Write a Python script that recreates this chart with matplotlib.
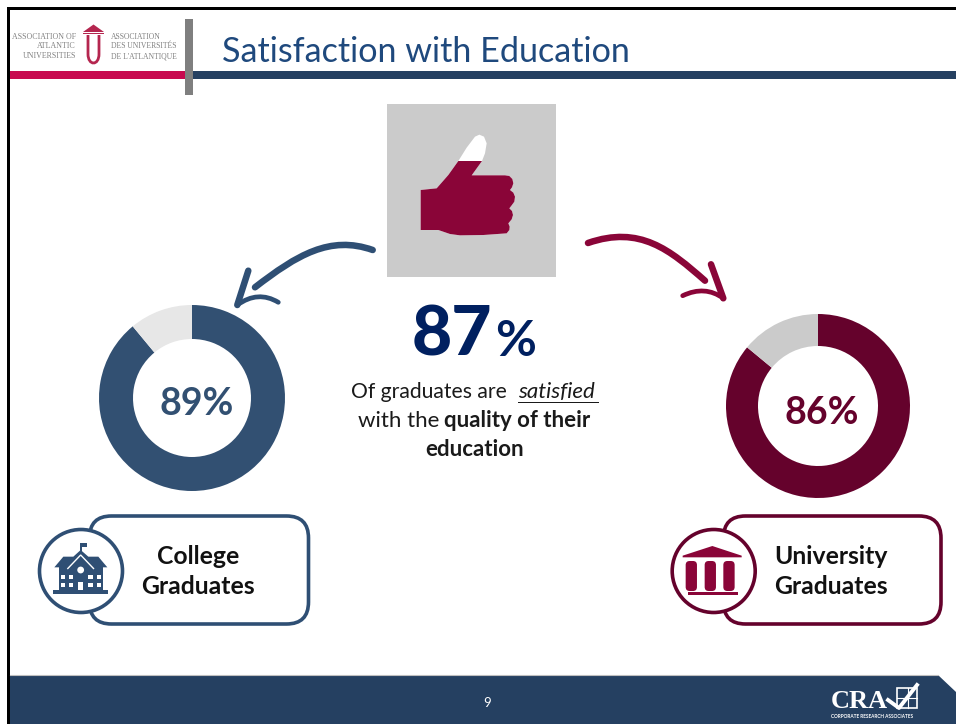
import matplotlib
matplotlib.use('Agg')
import matplotlib.pyplot as plt
from matplotlib.patches import Rectangle, Circle, FancyBboxPatch, PathPatch, Polygon
from matplotlib.path import Path

plt.rcParams['font.family'] = ['Lato', 'DejaVu Sans']

# ========== DATA ==========

W, H = 956, 724

title = "Satisfaction with Education"
overall_pct = 87
college_pct = 89
university_pct = 86
college_label = ["College", "Graduates"]
university_label = ["University", "Graduates"]
logo_left = ["ASSOCIATION OF", "ATLANTIC", "UNIVERSITIES"]
logo_right = ["ASSOCIATION", "DES UNIVERSITÉS", "DE L'ATLANTIQUE"]
page_number = "9"

NAVY = '#325072'
BAR_NAVY = '#254061'
MAROON = '#65022c'
CRIMSON = '#8a0538'
LOGO_RED = '#b5264f'

# ========== HELPERS ==========

def donut(cx, cy, r_out, r_in, pct, color, rest_color):
    # axes placed in pixel units, pie scales come from the values
    d = fig.add_axes([(cx - r_out) / W, 1 - (cy + r_out) / H, 2 * r_out / W, 2 * r_out / H], zorder=1)
    d.pie([pct, 100 - pct], colors=[color, rest_color], startangle=90, counterclock=False,
          radius=1, wedgeprops=dict(width=1 - r_in / r_out, linewidth=0))
    d.set_xlim(-1, 1)
    d.set_ylim(-1, 1)


def curve(verts, codes, color, lw):
    path = Path(verts, codes)
    ax.add_patch(PathPatch(path, fc='none', ec=color, lw=lw, capstyle='round', joinstyle='round'))


def arrow(shaft, head_a, tip, head_ctrl, head_b, color):
    c4 = [Path.MOVETO, Path.CURVE4, Path.CURVE4, Path.CURVE4]
    curve(shaft, c4, color, 4.7)
    curve([head_a, tip], [Path.MOVETO, Path.LINETO], color, 4.7)
    curve([tip, head_ctrl, head_b], [Path.MOVETO, Path.CURVE3, Path.CURVE3], color, 3.4)


def label_box(x0, x1, cx, color, lines, text_x):
    box = FancyBboxPatch((x0 + 22, 538), x1 - x0 - 44, 64, boxstyle="round,pad=22,rounding_size=22",
                         fc='white', ec=color, lw=2.6)
    ax.add_patch(box)
    ax.add_patch(Circle((cx, 571), 41.5, fc='white', ec=color, lw=2.6, zorder=3))
    ax.text(text_x, 556, lines[0], ha='center', va='center', fontsize=17.8, fontweight='bold', color='#111111')
    ax.text(text_x, 587, lines[1], ha='center', va='center', fontsize=17.8, fontweight='bold', color='#111111')


def school_icon(color):
    z = lambda x, y: (20 + x / 3, 505 + y / 3)
    def rect(x0, y0, x1, y1, c):
        ax.add_patch(Polygon([z(x0, y0), z(x1, y0), z(x1, y1), z(x0, y1)], fc=c, ec='none', zorder=4))
    ax.add_patch(Polygon([z(103, 187), z(130, 155), z(160, 155), z(182, 135), z(205, 155),
                          z(235, 155), z(262, 187)], fc=color, ec='none', zorder=4))
    rect(118, 187, 248, 255, color)
    rect(100, 255, 265, 266, color)
    rect(181, 113, 185, 137, color)
    rect(185, 113, 202, 125, color)
    ax.add_patch(Polygon([z(142, 192), z(182, 150), z(222, 192)], fc='none', ec='white', lw=1, zorder=5, closed=False))
    ax.add_patch(Circle(z(182, 195), 3.4, fc='white', ec='none', zorder=5))
    for wx in [122, 147, 205, 230]:
        for wy in [211, 233]:
            rect(wx, wy, wx + 13, wy + 12, 'white')
    rect(175, 230, 190, 255, 'white')


def temple_icon(color):
    z = lambda x, y: (660 + x / 3, 505 + y / 3)
    ax.add_patch(Polygon([z(68, 152), z(157, 123), z(245, 152), z(245, 157), z(68, 157)],
                         fc=color, ec='none', zorder=4))
    for cx in [94, 151, 207]:
        ax.add_patch(FancyBboxPatch(z(cx - 5, 180), 3.3, 22, boxstyle="round,pad=4,rounding_size=4",
                                    fc=color, ec='none', zorder=4))
    ax.add_patch(Polygon([z(84, 262), z(233, 262), z(233, 270), z(84, 270)], fc=color, ec='none', zorder=4))

# ========== FIGURE ==========

fig = plt.figure(figsize=(W / 100, H / 100), dpi=100, facecolor='white')
ax = fig.add_axes([0, 0, 1, 1], zorder=2)
ax.set_xlim(0, W)
ax.set_ylim(H, 0)
ax.axis('off')
ax.patch.set_visible(False)

# frame, header
ax.add_patch(Rectangle((7, 7), W, 2.5, fc='black', ec='none'))
ax.add_patch(Rectangle((7, 7), 3, H, fc='black', ec='none'))
ax.add_patch(Rectangle((10, 71), 175, 8, fc='#c8094f', ec='none'))
ax.add_patch(Rectangle((193, 71), W - 193, 8, fc=BAR_NAVY, ec='none'))
ax.add_patch(Rectangle((185, 19), 8, 76, fc='#7f7f7f', ec='none'))
ax.text(222, 62, title, fontsize=24.6, color='#1f497d', ha='left', va='baseline')

# logo
for i, s in enumerate(logo_left):
    ax.text(76, 37 + 9.5 * i, s, ha='right', va='center', fontsize=5.7, color='#808080', family='Liberation Serif')
for i, s in enumerate(logo_right):
    ax.text(111, 37 + 9.5 * i, s, ha='left', va='center', fontsize=5.5, color='#808080', family='Liberation Serif')
ax.add_patch(Polygon([(83, 32), (93.5, 24.5), (104, 32)], fc=LOGO_RED, ec='none'))
ax.add_patch(Rectangle((83, 32.5), 21, 1.5, fc=LOGO_RED, ec='none'))
ax.add_patch(PathPatch(Path([(88, 35), (88, 54), (88, 66), (99, 66), (99, 54), (99, 35)],
                            [Path.MOVETO, Path.LINETO, Path.CURVE4, Path.CURVE4, Path.CURVE4, Path.LINETO]),
                       fc='none', ec=LOGO_RED, lw=2))

# thumb
ax.add_patch(Rectangle((387, 104), 169, 173, fc='#cbcbcb', ec='none'))
thumb = [(152, 285), (200, 280), (235, 240), (265, 198), (290, 158), (315, 125), (328, 119), (342, 125),
         (350, 145), (345, 175), (336, 198), (305, 241), (405, 241), (418, 243), (427, 252), (430, 265),
         (426, 277), (420, 285), (430, 293), (435, 305), (433, 320), (425, 331), (418, 340), (426, 348),
         (429, 360), (425, 373), (415, 385), (419, 395), (418, 405), (410, 415),
         (340, 420), (270, 421), (240, 417), (205, 405), (152, 405)]
thumb = [(370 + x / 3, 95 + y / 3) for x, y in thumb]
ax.add_patch(Polygon(thumb, fc='white', ec='none'))
thumb_fill = Polygon(thumb, fc=CRIMSON, ec='none')
ax.add_patch(thumb_fill)
thumb_fill.set_clip_path(Rectangle((380, 161), 180, 120, transform=ax.transData))

# arrows
arrow([(372.7, 250), (330, 235), (297, 255), (255, 287.3)], (248.3, 270.7), (237.3, 305),
      (258, 290), (278.3, 302.3), '#2f4f74')
arrow([(588, 243), (640, 225), (670, 250), (705, 280.7)], (711, 264.3), (723.3, 298.3),
      (705, 285), (682.7, 295.7), CRIMSON)

# center text
BODY = 16
ax.text(492, 355, str(overall_pct), ha='right', va='baseline', fontsize=50, fontweight=900, color='#002060')
ax.text(495, 356, "%", ha='left', va='baseline', fontsize=36, fontweight='bold', color='#002060')
ax.text(351, 398, "Of graduates are", ha='left', va='baseline', fontsize=15.2, color='#1a1a1a')
ax.text(518, 398, "satisfied", ha='left', va='baseline', fontsize=BODY, style='italic', color='#1a1a1a')
ax.add_patch(Rectangle((518, 401.5), 81, 1.3, fc='#1a1a1a', ec='none'))
ax.text(358, 427, "with the", ha='left', va='baseline', fontsize=BODY, color='#1a1a1a')
ax.text(444, 427, "quality of their", ha='left', va='baseline', fontsize=BODY, fontweight='bold', color='#1a1a1a')
ax.text(475, 456, "education", ha='center', va='baseline', fontsize=BODY, fontweight='bold', color='#1a1a1a')

# donuts
donut(192, 398, 93, 59, college_pct, NAVY, '#e7e7e7')
donut(818, 406, 92, 60, university_pct, MAROON, '#cbcbcb')
ax.text(196.5, 404, f"{college_pct}%", ha='center', va='center', fontsize=27, fontweight='bold', color=NAVY)
ax.text(821.6, 413, f"{university_pct}%", ha='center', va='center', fontsize=27, fontweight='bold', color=MAROON)

# label boxes
label_box(89.5, 308.5, 81, '#2f4f74', college_label, 198)
school_icon('#2f4f74')
label_box(723.5, 941, 713.7, MAROON, university_label, 831)
temple_icon(CRIMSON)

# footer
ax.add_patch(Polygon([(10, 675), (938, 675), (956, 692), (956, H), (10, H)], fc=BAR_NAVY, ec='none'))
ax.plot([10, 938], [674.5, 674.5], color='#bfbfbf', lw=0.8)
ax.text(487, 703, page_number, ha='center', va='center', fontsize=9.5, color='white')
ax.text(859, 708.5, "CRA", ha='center', va='baseline', fontsize=19, fontweight='bold', color='white',
        family='Liberation Serif')
ax.add_patch(Rectangle((897, 688), 20, 20, fc='none', ec='white', lw=1.2))
ax.plot([908, 908], [688, 708], color='white', lw=0.8)
ax.plot([897, 917], [698, 698], color='white', lw=0.8)
ax.plot([888, 899, 917], [700, 708, 685], color='white', lw=2.8)
ax.text(872, 716.5, "CORPORATE RESEARCH ASSOCIATES", ha='center', va='center', fontsize=3.4, fontweight='bold', color='white')

fig.savefig('out.png', dpi=100)
